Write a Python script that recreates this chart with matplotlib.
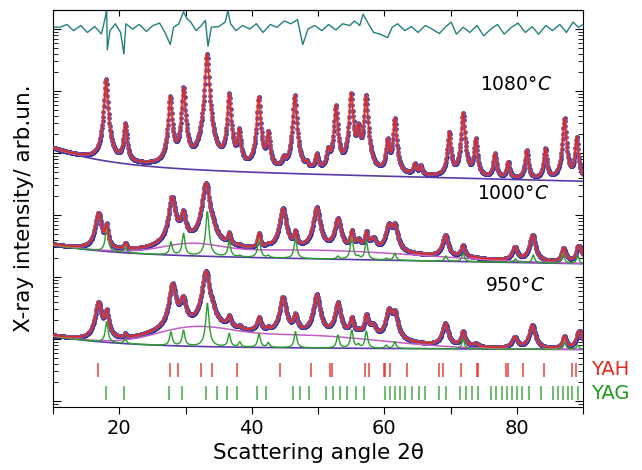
import numpy as np
import matplotlib.pyplot as plt

# ---------------- data ----------------
# all intensities are log10(intensity) in the stacked (offset) plot units

# top trace: difference curve of the 1080 C refinement (decades)
resid_x = [10.0, 11.0, 12.1, 13.1, 14.2, 15.2, 16.3, 17.3, 17.8, 18.1, 18.2, 18.6, 19.4,
           20.2, 20.7, 21.0, 22.0, 23.0, 24.1, 25.1, 26.1, 26.9, 27.7, 28.2, 29.0, 29.7,
           30.2, 30.8, 31.6, 32.4, 33.0, 33.4, 33.9, 35.0, 36.0, 36.4, 36.8, 37.6, 38.6,
           39.7, 40.7, 41.7, 42.8, 43.8, 44.9, 45.9, 46.9, 47.7, 48.5, 49.5, 50.6, 51.6,
           52.7, 53.7, 54.8, 55.5, 56.3, 56.8, 57.6, 58.4, 59.4, 60.5, 61.2, 62.0, 63.1,
           64.1, 65.1, 66.2, 67.2, 68.3, 69.3, 70.1, 70.9, 71.9, 72.9, 74.0, 75.0, 76.1,
           77.1, 78.1, 79.2, 80.2, 81.3, 82.3, 83.3, 84.4, 85.4, 86.5, 87.5, 88.5, 89.3, 90.0]
resid_val = [0.03, 0.027, 0.073, -0.027, 0.056, -0.056, 0.039, -0.081, 0.14, 0.306, -0.335,
             -0.027, 0.084, -0.056, -0.403, 0.084, 0.0, 0.073, -0.039, 0.056, 0.095, -0.056,
             -0.252, 0.027, 0.084, 0.279, 0.168, 0.111, -0.027, 0.056, 0.14, -0.279, 0.027,
             0.039, 0.111, 0.295, 0.084, -0.027, 0.056, 0.0, 0.084, -0.056, 0.073, 0.027,
             0.129, 0.084, 0.15, -0.252, 0.0, 0.056, -0.027, 0.073, -0.016, 0.084, 0.056,
             0.129, 0.056, 0.24, 0.084, -0.056, -0.084, -0.14, 0.027, 0.084, -0.027, 0.039,
             -0.056, 0.056, 0.0, -0.073, 0.039, 0.111, -0.084, 0.027, -0.056, 0.056, -0.111,
             0.0, 0.073, -0.084, 0.027, 0.095, -0.056, 0.039, -0.084, 0.056, -0.027, 0.073,
             -0.056, 0.111, 0.027, 0.073]
resid_level = 6.0

# backgrounds: (level at 10 deg, drop, decay length, linear slope)
bg1080 = (4.08, 0.32, 9.0, -0.0027)
bg1000 = (2.516, 0.15, 9.0, -0.0019)
bg950 = (1.048, 0.177, 10.0, -0.0005)

# 1080 C: reflections (position, top of profile)
p1080_pos = [18.0, 20.9, 27.7, 29.7, 33.25, 36.6, 38.1, 41.05, 42.5, 44.8, 46.5, 48.3,
             49.8, 51.55, 52.7, 55.0, 56.1, 57.25, 60.5, 61.6, 64.6, 65.5, 69.8, 71.9,
             73.8, 76.7, 78.7, 81.5, 84.3, 87.2, 89.05]
p1080_top = [5.189, 4.479, 4.919, 5.06, 5.597, 4.963, 4.398, 4.908, 4.36, 3.968, 4.935,
             3.887, 3.995, 4.102, 4.774, 4.973, 4.479, 4.935, 4.237, 4.56, 3.834, 3.806,
             4.344, 4.65, 4.237, 3.995, 3.86, 4.048, 4.076, 4.56, 4.263]

# 1000 C
hump1000_c = [31.0, 50.0]
hump1000_s = [4.0, 15.0]
hump1000_h = [0.43, 0.38]
yag1000_pos = [18.1, 20.9, 27.8, 29.7, 33.3, 36.6, 38.2, 41.1, 42.5, 46.6, 53.0, 55.1,
               56.1, 57.3, 60.3, 61.6, 69.3, 71.9, 79.8, 82.5, 87.0, 89.2]
yag1000_top = [2.802, 2.5, 2.569, 2.705, 3.053, 2.585, 2.355, 2.624, 2.355, 2.624, 2.339,
               2.65, 2.355, 2.585, 2.306, 2.382, 2.339, 2.382, 2.29, 2.355, 2.382, 2.339]
p1000_pos = [16.85, 18.1, 20.9, 28.0, 29.6, 33.0, 34.0, 36.6, 38.2, 41.1, 42.5, 44.7,
             46.6, 49.8, 53.0, 55.1, 56.1, 57.35, 58.35, 60.7, 61.6, 69.2, 71.9, 73.7,
             79.7, 82.35, 87.2, 89.5]
p1000_top = [3.037, 2.855, 2.489, 3.295, 3.069, 3.5, 3.027, 2.694, 2.5, 2.715, 2.553,
             3.108, 2.731, 3.124, 2.947, 2.731, 2.624, 2.731, 2.65, 2.866, 2.866, 2.677,
             2.516, 2.327, 2.489, 2.677, 2.435, 2.5]

# 950 C
hump950_c = [31.5, 46.0]
hump950_s = [5.0, 12.0]
hump950_h = [0.8, 0.62]
yag950_pos = [18.1, 20.9, 27.8, 29.7, 33.3, 36.6, 38.2, 41.1, 42.5, 46.6, 53.0, 55.1,
              56.1, 57.3, 60.3, 61.6, 71.9, 87.2, 89.2]
yag950_top = [1.279, 1.0, 1.118, 1.145, 1.576, 1.092, 0.956, 1.092, 0.947, 1.118, 1.065,
              1.145, 0.931, 1.129, 0.903, 0.956, 1.0, 0.968, 0.903]
p950_pos = [16.85, 18.1, 20.9, 28.07, 29.6, 33.0, 34.0, 36.6, 38.2, 41.1, 42.5, 44.7,
            46.6, 49.8, 53.0, 55.1, 56.1, 57.35, 58.35, 60.7, 61.6, 69.2, 71.9, 73.8,
            79.7, 82.35, 87.2, 89.5]
p950_top = [1.602, 1.484, 1.076, 1.898, 1.698, 2.085, 1.656, 1.387, 1.198, 1.36, 1.173,
            1.682, 1.415, 1.721, 1.592, 1.36, 1.173, 1.398, 1.253, 1.495, 1.468, 1.253,
            1.129, 0.931, 1.037, 1.226, 1.053, 1.129]

# Bragg positions
yah_ticks = [16.8, 27.6, 28.9, 32.4, 34.0, 37.8, 44.3, 48.9, 51.8, 52.1, 57.1, 57.75, 59.9,
             60.1, 60.9, 63.4, 68.2, 68.9, 71.6, 74.0, 74.2, 78.4, 78.7, 80.9, 84.1, 88.3, 88.95]
yag_ticks = [17.95, 20.75, 27.55, 29.45, 33.05, 34.7, 36.3, 37.8, 40.75, 42.1, 46.2, 47.3,
             48.6, 51.15, 52.2, 53.3, 54.4, 55.7, 56.9, 60.1, 60.9, 61.65, 62.4, 63.2, 64.2,
             65.2, 66.2, 68.3, 69.3, 71.4, 72.4, 73.3, 74.1, 76.1, 76.9, 77.8, 78.55, 79.3,
             80.1, 80.8, 81.8, 83.6, 85.5, 86.3, 87.0, 87.8, 88.4, 89.2]

temps = ['1080°$C$', '1000°$C$', '950°$C$']
temp_pos = [(79.9, 5.10), (79.4, 3.34), (79.7, 1.87)]

w1080 = 0.45   # peak widths (FWHM, deg)
w_yag = 0.42
w_yah = 0.9


# ---------------- profile model ----------------
def background(x, p):
    level, drop, tau, slope = p
    return 10 ** (level - drop * (1 - np.exp(-(x - 10) / tau)) + slope * (x - 10))


def lorentz(x, pos, fwhm):
    return 1.0 / (1.0 + (2.0 * (x - pos) / fwhm) ** 2)


def hump(x, c, s, h):
    out = np.zeros_like(x)
    for ci, si, hi in zip(c, s, h):
        out += hi * np.exp(-0.5 * ((x - ci) / si) ** 2)
    return out


def peaks(x, pos, amp, fwhm):
    return (amp[None, :] * lorentz(x[:, None], np.asarray(pos)[None, :], fwhm)).sum(axis=1)


def solve_amps(pos, top, fwhm, base):
    # heights so that base + peaks passes through the read peak tops
    pos = np.asarray(pos, float)
    want = np.clip(10 ** np.asarray(top) - base, 0, None)
    M = lorentz(pos[:, None], pos[None, :], fwhm)
    amp = want.copy()
    for _ in range(300):
        cur = M @ amp
        amp = amp * np.where(cur > 0, want / np.maximum(cur, 1e-12), 0)
    return amp


x = np.arange(10, 90.0001, 0.02)

c_obs = '#3b2b98'
c_calc = '#e3261c'
c_bg = '#5a3aa8'
c_am = '#c45cc8'
c_yag = '#2a9e2a'

fig = plt.figure(figsize=(6.42, 4.70), dpi=100)
ax = fig.add_axes([53 / 642, 63 / 470, 530 / 642, 397 / 470])
ax.set_yscale('log')

# 1080 C
b = background(x, bg1080)
pp = np.asarray(p1080_pos)
a = solve_amps(pp, p1080_top, w1080, background(pp, bg1080))
tot = b + peaks(x, pp, a, w1080)
ax.plot(x[::3], tot[::3], 'o', ms=3.3, mew=0, color=c_obs, zorder=2)
ax.plot(x, b, color=c_bg, lw=1.2, zorder=3)
ax.plot(x, tot, color='#f08a80', lw=2.6, alpha=0.45, zorder=4)
ax.plot(x, tot, color=c_calc, lw=1.0, zorder=5)

# 1000 C and 950 C
for bgp, hc, hs, hh, ypos, ytop, ppos, ptop in [
        (bg1000, hump1000_c, hump1000_s, hump1000_h, yag1000_pos, yag1000_top, p1000_pos, p1000_top),
        (bg950, hump950_c, hump950_s, hump950_h, yag950_pos, yag950_top, p950_pos, p950_top)]:
    b = background(x, bgp)
    am = b * (1 + hump(x, hc, hs, hh))
    yp = np.asarray(ypos)
    ay = solve_amps(yp, ytop, w_yag, background(yp, bgp))
    yag = peaks(x, yp, ay, w_yag)
    pp = np.asarray(ppos)
    base_p = background(pp, bgp) * (1 + hump(pp, hc, hs, hh)) + peaks(pp, yp, ay, w_yag)
    ae = solve_amps(pp, ptop, w_yah, base_p)
    tot = am + yag + peaks(x, pp, ae, w_yah)
    ax.plot(x[::3], tot[::3], 'o', ms=3.3, mew=0, color=c_obs, zorder=2)
    ax.plot(x, b, color=c_bg, lw=1.2, zorder=3)
    ax.plot(x, am, color=c_am, lw=1.1, zorder=3)
    ax.plot(x, b + yag, color=c_yag, lw=1.0, zorder=3)
    ax.plot(x, tot, color='#f08a80', lw=2.6, alpha=0.45, zorder=4)
    ax.plot(x, tot, color=c_calc, lw=1.0, zorder=5)

# difference curve
ax.plot(resid_x, 10 ** (resid_level + np.asarray(resid_val)), color='#22807c', lw=1.0)

# Bragg markers
trans = ax.get_xaxis_transform()
ax.vlines(yah_ticks, 0.076, 0.111, transform=trans, color=c_calc, lw=1.2, alpha=0.8)
ax.vlines(yag_ticks, 0.018, 0.053, transform=trans, color=c_yag, lw=1.2, alpha=0.8)
ax.text(1.015, 0.095, 'YAH', transform=ax.transAxes, color='#e8281e', fontsize=14,
        va='center', ha='left')
ax.text(1.015, 0.033, 'YAG', transform=ax.transAxes, color='#1e9a1e', fontsize=14,
        va='center', ha='left')

for t, (tx, ty) in zip(temps, temp_pos):
    ax.text(tx, 10 ** ty, t, fontsize=13.5, ha='center', va='center')

ax.set_xlim(10, 90)
ax.set_ylim(10 ** -0.097, 10 ** 6.306)
ax.set_xticks(np.arange(10, 91, 10))
ax.set_xticklabels(['', '20', '', '40', '', '60', '', '80', ''])
ax.tick_params(axis='x', which='both', direction='out', length=5, top=False, labelsize=14)
ax.tick_params(axis='y', which='major', direction='in', length=6, left=True, right=True,
               labelleft=False)
ax.tick_params(axis='y', which='minor', direction='in', length=3.5, left=True, right=True,
               labelleft=False)
sec = ax.secondary_xaxis('top')
sec.set_xticks(np.arange(10, 91, 10))
sec.tick_params(direction='in', length=4, labeltop=False)

ax.set_xlabel('Scattering angle 2θ', fontsize=15.5)
ax.xaxis.set_label_coords(0.5, -0.09)
ax.set_ylabel('X-ray intensity/ arb.un.', fontsize=15.5)
ax.yaxis.set_label_coords(-0.035, 0.5)

fig.savefig('out.png', dpi=100)
